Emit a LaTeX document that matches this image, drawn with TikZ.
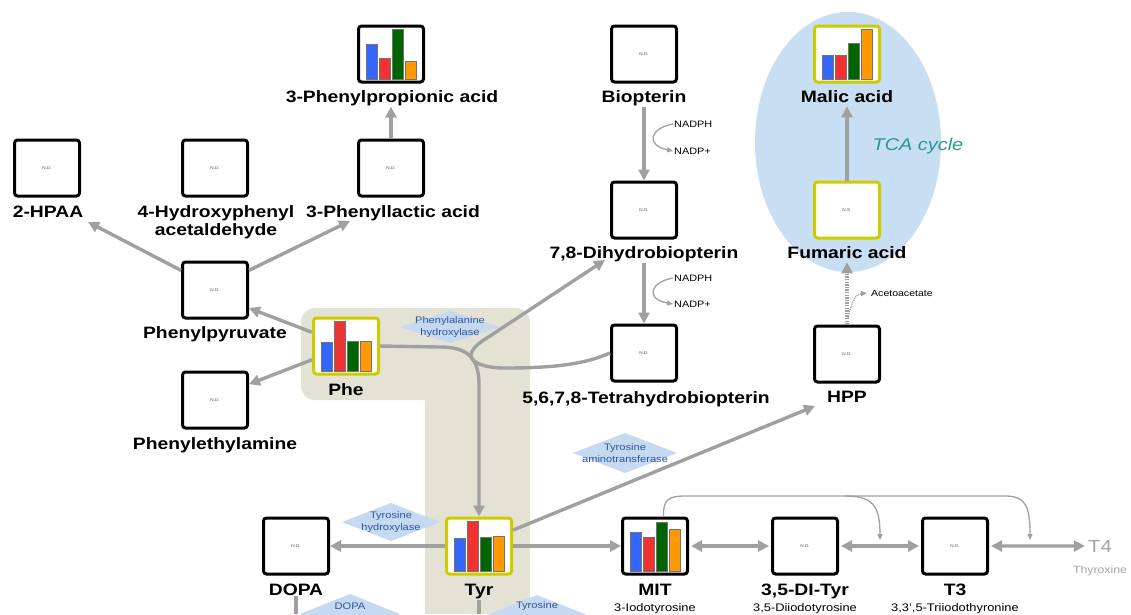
\documentclass[tikz,border=0pt]{standalone}
\usepackage{fontspec}
\setmainfont{Liberation Sans}[FakeStretch=1.17]
\usetikzlibrary{arrows.meta}
\definecolor{arrg}{RGB}{160,160,160}
\definecolor{beige}{RGB}{228,226,212}
\definecolor{tcab}{RGB}{200,222,242}
\definecolor{ylw}{RGB}{204,204,0}
\definecolor{dmd}{RGB}{197,217,241}
\definecolor{dmdt}{RGB}{45,85,160}
\definecolor{bb}{RGB}{51,102,255}
\definecolor{br}{RGB}{240,50,50}
\definecolor{bg}{RGB}{0,100,0}
\definecolor{bo}{RGB}{255,153,0}
\definecolor{teal2}{RGB}{40,150,150}
\definecolor{t4g}{RGB}{165,165,165}
\tikzset{
 box/.style={draw=black, line width=3pt, rounded corners=3pt, fill=white, minimum width=65pt, minimum height=56pt, inner sep=0pt, font=\fontsize{4}{4}\selectfont, text=black!70},
 ybox/.style={box, draw=ylw},
 lbl/.style={font=\bfseries\fontsize{16.5}{18}\selectfont, anchor=base, inner sep=1pt},
 sub/.style={font=\fontsize{11}{12}\selectfont, anchor=base, inner sep=1pt},
 cofac/.style={font=\fontsize{9.3}{10}\selectfont, anchor=west, inner sep=1pt},
 enz/.style={font=\fontsize{9.5}{12.5}\selectfont, text=dmdt, align=center, inner sep=0pt},
 tip/.style={-{Triangle[length=11pt,width=11pt]}},
 arr/.style={draw=arrg, line width=3.4pt, tip},
 darr/.style={draw=arrg, line width=3.4pt, {Triangle[length=11pt,width=11pt]}-{Triangle[length=11pt,width=11pt]}},
 plain/.style={draw=arrg, line width=3.4pt},
 dotarr/.style={draw=arrg, line width=3.4pt, dash pattern=on 1.3pt off 1.3pt, tip},
 thinarr/.style={draw=arrg, line width=1.3pt, -{Triangle[length=6pt,width=5pt]}},
 thindot/.style={draw=arrg, line width=1.3pt, dash pattern=on 1pt off 1pt, -{Triangle[length=6pt,width=5pt]}},
 barstyle/.style={draw=black!55, line width=0.4pt}
}
\newcommand\mybars[6]{%
 \filldraw[barstyle, fill=bb] (#1-25,#2+25) rectangle ++(11,-#3);
 \filldraw[barstyle, fill=br] (#1-12,#2+25) rectangle ++(11,-#4);
 \filldraw[barstyle, fill=bg] (#1+1,#2+25) rectangle ++(11,-#5);
 \filldraw[barstyle, fill=bo] (#1+14,#2+25) rectangle ++(11,-#6);
}
\newcommand\mydiamond[4]{%
 \fill[dmd] (#1-#3/2,#2) -- (#1,#2-#4/2) -- (#1+#3/2,#2) -- (#1,#2+#4/2) -- cycle;
}
\begin{document}
\begin{tikzpicture}[x=1pt,y=-1pt]
\useasboundingbox (0,0) rectangle (1131,614);
\fill[white] (0,0) rectangle (1131,614);
% backgrounds
\fill[tcab] (848,142) ellipse [x radius=93, y radius=130];
\fill[beige, rounded corners=14pt] (301,308) rectangle (530,400);
\fill[beige] (425,380) rectangle (530,614);
% enzyme diamonds
\mydiamond{450}{327}{100}{32}
\mydiamond{625}{453}{104}{40}
\mydiamond{391}{522}{98}{38}
\mydiamond{350}{614}{100}{40}
\mydiamond{537}{615}{100}{40}
\node[enz] (e1) at (450,327) {Phenylalanine\\hydroxylase};
\node[enz] (e2) at (625,453) {Tyrosine\\aminotransferase};
\node[enz] (e3) at (391,522) {Tyrosine\\hydroxylase};
\node[enz] (e4) at (350,606) {DOPA};
\node[enz] (e5) at (537,606) {Tyrosine};
\node[font=\itshape\fontsize{17}{18}\selectfont, text=teal2] (tca) at (918,146) {TCA cycle};
% boxes
\node[box] (ppa) at (391,54) {};
\node[box] (bio) at (644,54) {N.D.};
\node[ybox] (mal) at (847,54) {};
\node[box] (hpaa) at (47,168) {N.D.};
\node[box] (hpa) at (215,168) {N.D.};
\node[box] (pla) at (391,168) {N.D.};
\node[box] (dhb) at (644,210) {N.D.};
\node[ybox] (fum) at (847,210) {N.S.};
\node[box] (pp) at (215,290) {N.D.};
\node[ybox] (phe) at (346,346) {};
\node[box] (bh4) at (644,353) {N.D.};
\node[box] (hpp) at (847,354) {N.D.};
\node[box] (pe) at (215,400) {N.D.};
\node[box] (dopa) at (296,546) {N.D.};
\node[ybox] (tyr) at (479,546) {};
\node[box] (mit) at (655,546) {};
\node[box] (dit) at (805,546) {N.D.};
\node[box] (t3) at (955,546) {N.D.};
% bars
\mybars{391}{54}{35}{21}{50}{18}
\mybars{847}{54}{24}{24}{36}{50}
\mybars{346}{346}{29}{50}{30}{30}
\mybars{479}{546}{33}{50}{34}{35}
\mybars{655}{546}{39}{34}{49}{42}
% labels
\node[lbl] (lppa) at (392,102) {3-Phenylpropionic acid};
\node[lbl] (lbio) at (644,102) {Biopterin};
\node[lbl] (lmal) at (847,102) {Malic acid};
\node[lbl] (lhpaa) at (48,217) {2-HPAA};
\node[lbl] (lhpa1) at (216,217) {4-Hydroxyphenyl};
\node[lbl] (lhpa2) at (216,235) {acetaldehyde};
\node[lbl] (lpla) at (393,217) {3-Phenyllactic acid};
\node[lbl] (ldhb) at (644,258) {7,8-Dihydrobiopterin};
\node[lbl] (lfum) at (847,258) {Fumaric acid};
\node[lbl] (lpp) at (215,338) {Phenylpyruvate};
\node[lbl] (lphe) at (346,395) {Phe};
\node[lbl] (lbh4) at (646,403) {5,6,7,8-Tetrahydrobiopterin};
\node[lbl] (lhpp) at (847,402) {HPP};
\node[lbl] (lpe) at (215,449) {Phenylethylamine};
\node[lbl] (ldopa) at (296,595) {DOPA};
\node[lbl] (ltyr) at (479,595) {Tyr};
\node[lbl] (lmit) at (655,595) {MIT};
\node[lbl] (ldit) at (805,595) {3,5-DI-Tyr};
\node[lbl] (lt3) at (955,595) {T3};
\node[sub] (smit) at (655,611) {3-Iodotyrosine};
\node[sub] (sdit) at (805,611) {3,5-Diiodotyrosine};
\node[sub] (st3) at (955,611) {3,3',5-Triiodothyronine};
\node[font=\fontsize{17.5}{18}\selectfont, text=t4g, anchor=base, inner sep=1pt] (t4) at (1100,552) {T4};
\node[font=\fontsize{10.5}{11}\selectfont, text=t4g, anchor=base, inner sep=1pt] (thx) at (1100,573) {Thyroxine};
\node[cofac] (nadph1) at (673,124) {NADPH};
\node[cofac] (nadp1) at (673,151) {NADP+};
\node[cofac] (nadph2) at (673,278) {NADPH};
\node[cofac] (nadp2) at (673,304) {NADP+};
\node[cofac, font=\fontsize{9}{10}\selectfont] (acet) at (870,293) {Acetoacetate};
% free-end coordinates
\coordinate (c1) at (88,222);
\coordinate (c2) at (350,221);
\coordinate (c3) at (605,260);
\coordinate (c4) at (815,406);
\coordinate (cdn1) at (296,614);
\coordinate (cdn2) at (479,614);
\coordinate (cT3) at (880,540);
\coordinate (cT4) at (1030,540);
\coordinate (cac) at (867,293);
\coordinate (cac0) at (848,318);
% connectors
\draw[arr] (pla.north) -- (pla.north |- lppa.south);
\draw[arr] (lbio.south) -- (dhb.north);
\draw[arr] (ldhb.south) -- (bh4.north);
\draw[arr, shorten >=3pt] (fum.north) -- (lmal.south);
\draw[dotarr, shorten >=3pt] (hpp.north) -- (lfum.south);
\draw[thindot] (cac0) .. controls (852,300) and (856,294) .. (cac);
\draw[thinarr] (nadph1.west) .. controls (650,128) and (645,145) .. (nadp1.west);
\draw[thinarr] (nadph2.west) .. controls (650,282) and (645,299) .. (nadp2.west);
\draw[arr] (pp.150) -- (c1);
\draw[arr] (pp.30) -- (c2);
\draw[arr] (phe.158) -- (pp.-28);
\draw[arr] (phe.202) -- (pe.25);
\draw[arr] (phe.east) -- (440,347) .. controls (468,347) and (479,358) .. (479,385) -- (tyr.north);
\draw[arr] (bh4.west) .. controls (585,364) and (555,368) .. (505,368) .. controls (485,368) and (473,363) .. (471,357) .. controls (470,350) and (478,343) .. (490,336) -- (c3);
\draw[arr] (tyr.25) -- (c4);
\draw[arr] (tyr.west) -- (dopa.east);
\draw[arr] (tyr.east) -- (mit.west);
\draw[darr, shorten <=2pt, shorten >=2pt] (mit.east) -- (dit.west);
\draw[darr, shorten <=2pt, shorten >=2pt] (dit.east) -- (t3.west);
\draw[darr, shorten <=2pt, shorten >=2pt] (t3.east) -- (t4.west);
\draw[plain] (ldopa.south) -- (cdn1);
\draw[plain] (ltyr.south) -- (cdn2);
\draw[thinarr] (mit.74) .. controls (663,500) and (668,496) .. (685,496) -- (1005,496) .. controls (1025,496) and (1030,505) .. (cT4);
\draw[thinarr] (845,496) .. controls (872,496) and (880,505) .. (cT3);
\end{tikzpicture}
\end{document}
